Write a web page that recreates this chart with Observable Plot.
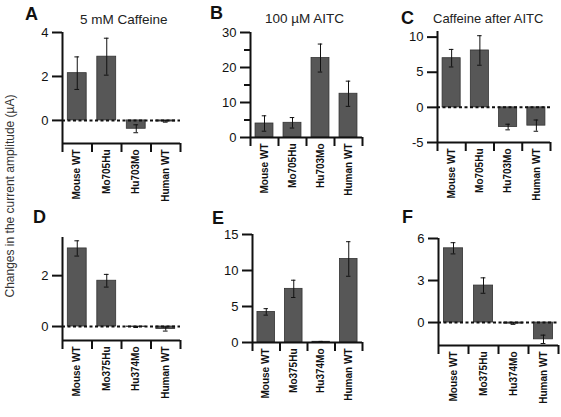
<!DOCTYPE html>
<html>
<head>
<meta charset="utf-8">
<script src="https://cdn.jsdelivr.net/npm/d3@7"></script>
<script src="https://cdn.jsdelivr.net/npm/@observablehq/plot@0.6"></script>
<style>
  html, body { margin: 0; padding: 0; background: #fff; }
  #fig { position: relative; width: 561px; height: 417px; background: #fff; overflow: hidden; font-family: "Liberation Sans", Arial, sans-serif; }
  .panel { position: absolute; }
  #overlay { position: absolute; left: 0; top: 0; pointer-events: none; }
</style>
</head>
<body>
<div id="fig"></div>
<script>
// ---------- data ----------
const catsTop = ["Mouse WT", "Mo705Hu", "Hu703Mo", "Human WT"];
const catsBottom = ["Mouse WT", "Mo375Hu", "Hu374Mo", "Human WT"];

const valsA = [2.15, 2.9, -0.38, -0.05];
const errA  = [0.74, 0.84, 0.18, 0.03];
const valsB = [4.0, 4.2, 22.7, 12.5];
const errB  = [2.2, 1.5, 4.0, 3.6];
const valsC = [7.0, 8.1, -2.8, -2.6];
const errC  = [1.25, 2.1, 0.4, 0.8];
const valsD = [3.07, 1.8, -0.02, -0.1];
const errD  = [0.3, 0.25, 0.02, 0.08];
const valsE = [4.25, 7.45, 0.1, 11.6];
const errE  = [0.45, 1.2, 0.05, 2.4];
const valsF = [5.3, 2.64, -0.08, -1.2];
const errF  = [0.4, 0.55, 0.05, 0.3];

const ticksA = [0, 2, 4];
const ticksB = [0, 10, 20, 30];
const minorB = [5, 15, 25];
const ticksC = [-5, 0, 5, 10];
const ticksD = [0, 2];
const ticksE = [0, 5, 10, 15];
const ticksF = [0, 3, 6];

const titles = ["5 mM Caffeine", "100 \u00B5M AITC", "Caffeine after AITC"];
const letters = ["A", "B", "C", "D", "E", "F"];
const yLabel = "Changes in the current amplitude (\u00B5A)";

// ---------- panel builder ----------
const FONT = "'Liberation Sans', Arial, sans-serif";
function panel(cats, vals, errs, cfg) {
  const data = cats.map((c, i) => ({i, c, v: vals[i], e: errs[i]}));
  const marks = [
    Plot.rect(data, {x1: d => d.i + 0.18, x2: d => d.i + 0.82, y1: 0, y2: "v", fill: "#575757", stroke: "#333", strokeWidth: 0.8}),
    Plot.ruleX(data, {x: d => d.i + 0.5, y1: d => d.v - d.e, y2: d => d.v + d.e, stroke: "#111", strokeWidth: 1}),
    Plot.ruleY(data, {y: d => d.v + d.e, x1: d => d.i + 0.42, x2: d => d.i + 0.58, stroke: "#111", strokeWidth: 1}),
    Plot.ruleY(data, {y: d => d.v - d.e, x1: d => d.i + 0.42, x2: d => d.i + 0.58, stroke: "#111", strokeWidth: 1})
  ];
  if (cfg.yDomain[0] < 0) marks.push(Plot.ruleY([0], {stroke: "#111", strokeWidth: 2, strokeDasharray: "3,2.5"}));
  marks.push(
    Plot.ruleX([0], {stroke: "#111", strokeWidth: 2}),
    Plot.ruleY([cfg.yDomain[0]], {stroke: "#111", strokeWidth: 2}),
    Plot.axisY({ticks: cfg.ticks, tickSize: 10, tickPadding: 4, strokeWidth: 2, fontSize: 13, label: null, tickFormat: d => String(d).replace("-", "-")}),
    Plot.axisX({ticks: [0, 1, 2, 3, 4], tickSize: 9, strokeWidth: 2, tickFormat: () => "", label: null}),
    Plot.axisX({ticks: [0.5, 1.5, 2.5, 3.5], tickSize: 0, tickPadding: 6, tickRotate: -90, fontSize: 10, fontWeight: "bold", tickFormat: v => cats[Math.floor(v)], label: null})
  );
  if (cfg.minor) marks.push(Plot.axisY({ticks: cfg.minor, tickSize: 6, strokeWidth: 2, tickFormat: () => "", label: null}));
  const chart = Plot.plot({
    width: cfg.w, height: cfg.h,
    marginLeft: cfg.ml, marginRight: cfg.mr, marginTop: cfg.mt, marginBottom: cfg.mb,
    x: {type: "linear", domain: [0, 4], axis: null},
    y: {domain: cfg.yDomain, axis: null},
    style: {fontFamily: FONT, background: "transparent", color: "#111", overflow: "visible"},
    marks
  });
  const div = document.createElement("div");
  div.className = "panel";
  div.style.left = cfg.left + "px";
  div.style.top = cfg.top + "px";
  div.appendChild(chart);
  document.getElementById("fig").appendChild(div);
}

panel(catsTop, valsA, errA, {left: 0, top: 0, w: 185, h: 205, ml: 62, mr: 5, mt: 32, mb: 62, yDomain: [-1.05, 4], ticks: ticksA});
panel(catsTop, valsB, errB, {left: 180, top: 0, w: 190, h: 205, ml: 70, mr: 8, mt: 32, mb: 68, yDomain: [0, 30], ticks: ticksB, minor: minorB});
panel(catsTop, valsC, errC, {left: 370, top: 0, w: 191, h: 205, ml: 67, mr: 11, mt: 31, mb: 63, yDomain: [-5, 10.8], ticks: ticksC});
panel(catsBottom, valsD, errD, {left: 0, top: 205, w: 185, h: 212, ml: 62, mr: 5, mt: 32, mb: 77, yDomain: [-0.55, 3.5], ticks: ticksD});
panel(catsBottom, valsE, errE, {left: 180, top: 205, w: 190, h: 212, ml: 72, mr: 8, mt: 29, mb: 75, yDomain: [0, 15], ticks: ticksE});
panel(catsBottom, valsF, errF, {left: 370, top: 205, w: 191, h: 212, ml: 68, mr: 3, mt: 33, mb: 72, yDomain: [-1.64, 6], ticks: ticksF});

// ---------- overlay text ----------
const NS = "http://www.w3.org/2000/svg";
const ov = document.createElementNS(NS, "svg");
ov.setAttribute("id", "overlay");
ov.setAttribute("width", 561);
ov.setAttribute("height", 417);
function addText(str, x, y, opts) {
  const t = document.createElementNS(NS, "text");
  t.textContent = str;
  t.setAttribute("x", x);
  t.setAttribute("y", y);
  t.setAttribute("font-family", FONT);
  t.setAttribute("font-size", opts.size);
  if (opts.weight) t.setAttribute("font-weight", opts.weight);
  if (opts.anchor) t.setAttribute("text-anchor", opts.anchor);
  if (opts.transform) t.setAttribute("transform", opts.transform);
  t.setAttribute("fill", opts.fill || "#111");
  ov.appendChild(t);
}
const letterPos = [[25, 20], [210, 19], [401, 24], [33, 223], [212, 224], [402, 223]];
letters.forEach((l, k) => addText(l, letterPos[k][0], letterPos[k][1], {size: 18, weight: "bold"}));
const titlePos = [[80, 24, 13.5], [265, 23, 13.5], [433, 23, 13]];
titles.forEach((t, k) => addText(t, titlePos[k][0], titlePos[k][1], {size: titlePos[k][2], fill: "#222"}));
addText(yLabel, 0, 0, {size: 12, anchor: "middle", transform: "translate(14,196) rotate(-90)", fill: "#333"});
document.getElementById("fig").appendChild(ov);
</script>
</body>
</html>
